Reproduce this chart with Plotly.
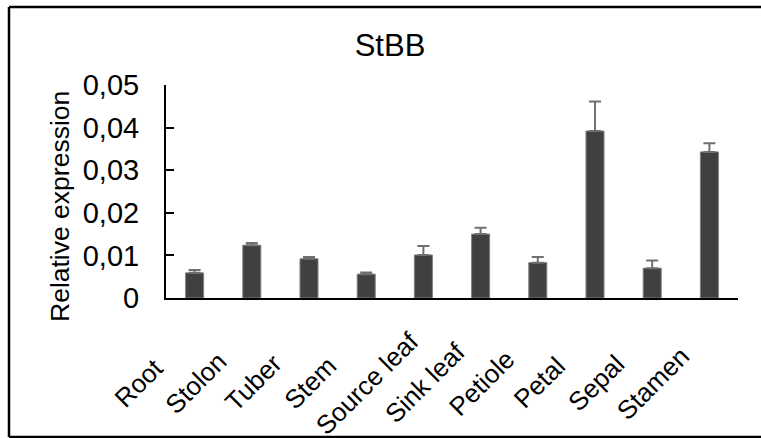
import plotly.graph_objects as go

# Relative expression of StBB across potato tissues
tissues = ["Root", "Stolon", "Tuber", "Stem", "Source leaf", "Sink leaf",
           "Petiole", "Petal", "Sepal", "Stamen"]
expression = [0.0059, 0.0124, 0.0092, 0.0056, 0.0101, 0.0150,
              0.0083, 0.0392, 0.0070, 0.0343]
expression_sd = [0.0007, 0.0005, 0.0004, 0.0004, 0.0021, 0.0015,
                 0.0013, 0.0069, 0.0018, 0.0020]
y_tick_values = [0, 0.01, 0.02, 0.03, 0.04, 0.05]
y_tick_labels = ["0", "0,01", "0,02", "0,03", "0,04", "0,05"]

FONT = "Liberation Sans, Arial, sans-serif"

W, H = 761, 438
L, R, T, B = 166, 23, 85, 140
pw, ph = W - L - R, H - T - B


def px_to_paper_x(px):
    return (px - L) / pw


def px_to_paper_y(py):
    return (H - B - py) / ph


fig = go.Figure()
fig.add_trace(go.Bar(
    x=tissues,
    y=expression,
    marker=dict(color="#404040", line=dict(color="#7f7f7f", width=1)),
    error_y=dict(type="data", array=expression_sd, symmetric=False,
                 arrayminus=[0] * len(expression_sd),
                 color="#707070", thickness=2, width=6),
    showlegend=False,
))

# rotated category labels, centred below each bar
annotations = []
for name in tissues:
    annotations.append(dict(
        x=name, xref="x", y=px_to_paper_y(383), yref="paper",
        text=name, showarrow=False, textangle=-45,
        xanchor="center", yanchor="middle", xshift=-56,
        font=dict(family=FONT, size=26, color="black"),
    ))

annotations.append(dict(
    x=px_to_paper_x(60), y=px_to_paper_y(207), xref="paper", yref="paper",
    text="Relative expression", showarrow=False, textangle=-90,
    xanchor="center", yanchor="middle",
    font=dict(family=FONT, size=26.5, color="black"),
))

# chart-area border: left, top and bottom edges
fx0, fx1 = px_to_paper_x(9), px_to_paper_x(770)
fy0, fy1 = px_to_paper_y(437), px_to_paper_y(7)
border = dict(color="black", width=2.5)
frame = [
    dict(type="line", xref="paper", yref="paper", x0=fx0, x1=fx0, y0=fy0, y1=fy1, line=border),
    dict(type="line", xref="paper", yref="paper", x0=fx0, x1=fx1, y0=fy1, y1=fy1, line=border),
    dict(type="line", xref="paper", yref="paper", x0=fx0, x1=fx1, y0=fy0, y1=fy0, line=border),
]

fig.update_layout(
    width=W, height=H,
    margin=dict(l=L, r=R, t=T, b=B),
    paper_bgcolor="white", plot_bgcolor="white",
    bargap=0.685,
    title=dict(text="StBB", x=px_to_paper_x(390), xref="paper", xanchor="center",
               y=1 - 45.5 / H, yref="container", yanchor="middle",
               font=dict(family=FONT, size=31, color="black")),
    annotations=annotations,
    shapes=frame,
)

fig.update_xaxes(range=[-0.5, len(tissues) - 0.5], autorange=False,
                 showticklabels=False, ticks="", showline=True,
                 linecolor="black", linewidth=2, showgrid=False,
                 zeroline=False)
fig.update_yaxes(range=[0, 0.05], autorange=False,
                 tickvals=y_tick_values, ticktext=y_tick_labels,
                 ticks="inside", ticklen=8, tickwidth=1.5, tickcolor="black",
                 showline=True, linecolor="black", linewidth=2,
                 showgrid=False, zeroline=False, ticklabelstandoff=19,
                 tickfont=dict(family=FONT, size=29, color="black"))

fig.write_html("out.html")
